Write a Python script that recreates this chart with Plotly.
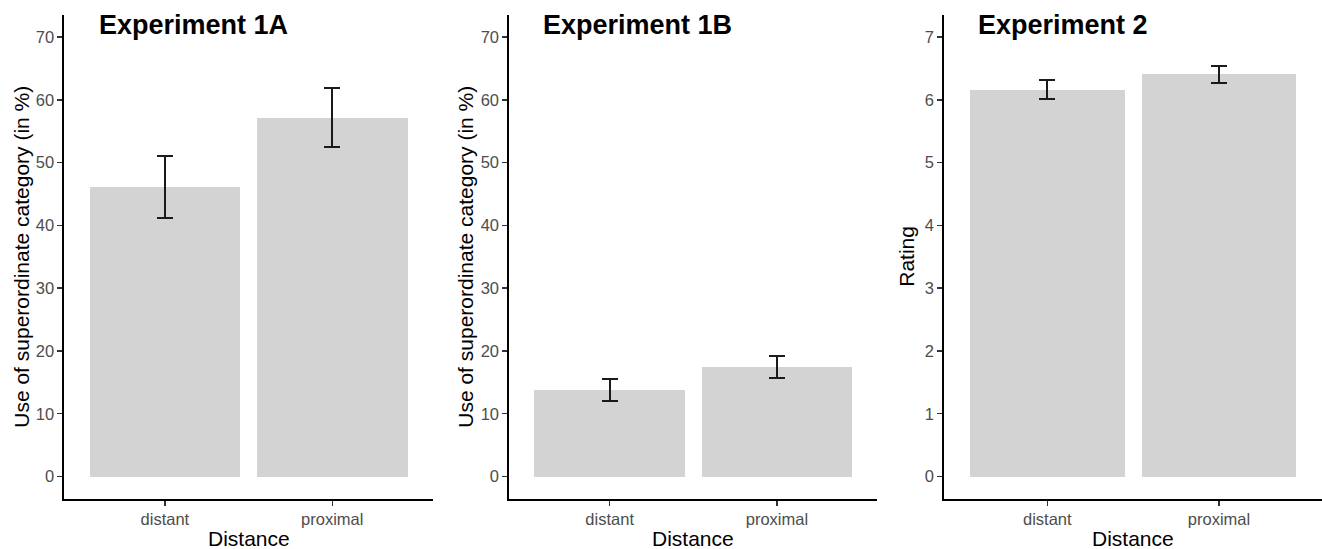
import plotly.graph_objects as go

W, H = 1322, 549

# ---- data ----
categories = ["distant", "proximal"]

exp1a_mean = [46.1, 57.1]
exp1a_lower = [41.2, 52.4]
exp1a_upper = [51.0, 61.8]

exp1b_mean = [13.8, 17.5]
exp1b_lower = [12.1, 15.7]
exp1b_upper = [15.5, 19.2]

exp2_mean = [6.16, 6.41]
exp2_lower = [6.02, 6.27]
exp2_upper = [6.31, 6.54]

panel_titles = ["Experiment 1A", "Experiment 1B", "Experiment 2"]
y_titles = ["Use of superordinate category (in %)",
            "Use of superordinate category (in %)",
            "Rating"]
x_title = "Distance"
pct_ticks = [0, 10, 20, 30, 40, 50, 60, 70]
rating_ticks = [0, 1, 2, 3, 4, 5, 6, 7]

# ---- layout geometry (pixels) ----
panels_px = [(64.4, 432.7), (509.3, 877.3), (944.3, 1322)]
top_px, bottom_px = 15, 498.5
ydom = [(H - bottom_px) / H, (H - top_px) / H]

FONT = "Liberation Sans, Arial, Helvetica, sans-serif"
BAR_COLOR = "#D3D3D3"
TICK_COLOR = "#4D4D4D"

fig = go.Figure()

series = [
    (exp1a_mean, exp1a_lower, exp1a_upper),
    (exp1b_mean, exp1b_lower, exp1b_upper),
    (exp2_mean, exp2_lower, exp2_upper),
]

for i, (m, lo, hi) in enumerate(series):
    suffix = "" if i == 0 else str(i + 1)
    fig.add_trace(go.Bar(
        x=categories, y=m, width=0.9,
        marker=dict(color=BAR_COLOR, line=dict(width=0)),
        error_y=dict(type="data", symmetric=False,
                     array=[h - v for h, v in zip(hi, m)],
                     arrayminus=[v - l for v, l in zip(m, lo)],
                     color="#1a1a1a", thickness=2, width=8),
        xaxis="x" + suffix, yaxis="y" + suffix,
        showlegend=False, hoverinfo="skip",
    ))

layout = dict(
    width=W, height=H,
    margin=dict(l=0, r=0, t=0, b=0),
    paper_bgcolor="white", plot_bgcolor="white",
    font=dict(family=FONT, color="black"),
    bargap=0,
)

annotations = []
for i, (x0, x1) in enumerate(panels_px):
    suffix = "" if i == 0 else str(i + 1)
    xd = [x0 / W, min(x1 / W, 1.0)]
    axis_common = dict(showline=True, linecolor="black", linewidth=2,
                       ticks="outside", ticklen=5, tickwidth=1.5, tickcolor="#333333",
                       showgrid=False, zeroline=False,
                       tickfont=dict(family=FONT, size=16.5, color=TICK_COLOR))
    layout["xaxis" + suffix] = dict(domain=xd, anchor="y" + suffix,
                                    range=[-0.6, 1.6], type="category",
                                    fixedrange=True, **axis_common)
    if i < 2:
        yr, tv = [-3.5, 73.5], pct_ticks
    else:
        yr, tv = [-0.35, 7.35], rating_ticks
    layout["yaxis" + suffix] = dict(domain=ydom, anchor="x" + suffix,
                                    range=yr, tickvals=tv,
                                    ticktext=[str(t) for t in tv],
                                    fixedrange=True, **axis_common)

    # panel title
    title_x = [97, 541, 976][i]
    annotations.append(dict(text="<b>" + panel_titles[i] + "</b>",
                            xref="paper", yref="paper",
                            x=title_x / W, y=(H - 25) / H,
                            xanchor="left", yanchor="middle", showarrow=False,
                            font=dict(family=FONT, size=27, color="black")))
    # x title
    annotations.append(dict(text=x_title, xref="paper", yref="paper",
                            x=((x0 + x1) / 2) / W, y=(H - 538) / H,
                            xanchor="center", yanchor="middle", showarrow=False,
                            font=dict(family=FONT, size=21, color="black")))
    # y title
    ytx = [22, 466, 907][i]
    annotations.append(dict(text=y_titles[i], xref="paper", yref="paper",
                            x=ytx / W, y=((H - (top_px + bottom_px) / 2) / H),
                            xanchor="center", yanchor="middle", showarrow=False,
                            textangle=-90,
                            font=dict(family=FONT, size=21, color="black")))

layout["annotations"] = annotations
fig.update_layout(**layout)

fig.write_html("out.html",
               config={"displayModeBar": False, "staticPlot": True},
               post_script="document.body.style.margin='0';document.body.style.overflow='hidden';")
